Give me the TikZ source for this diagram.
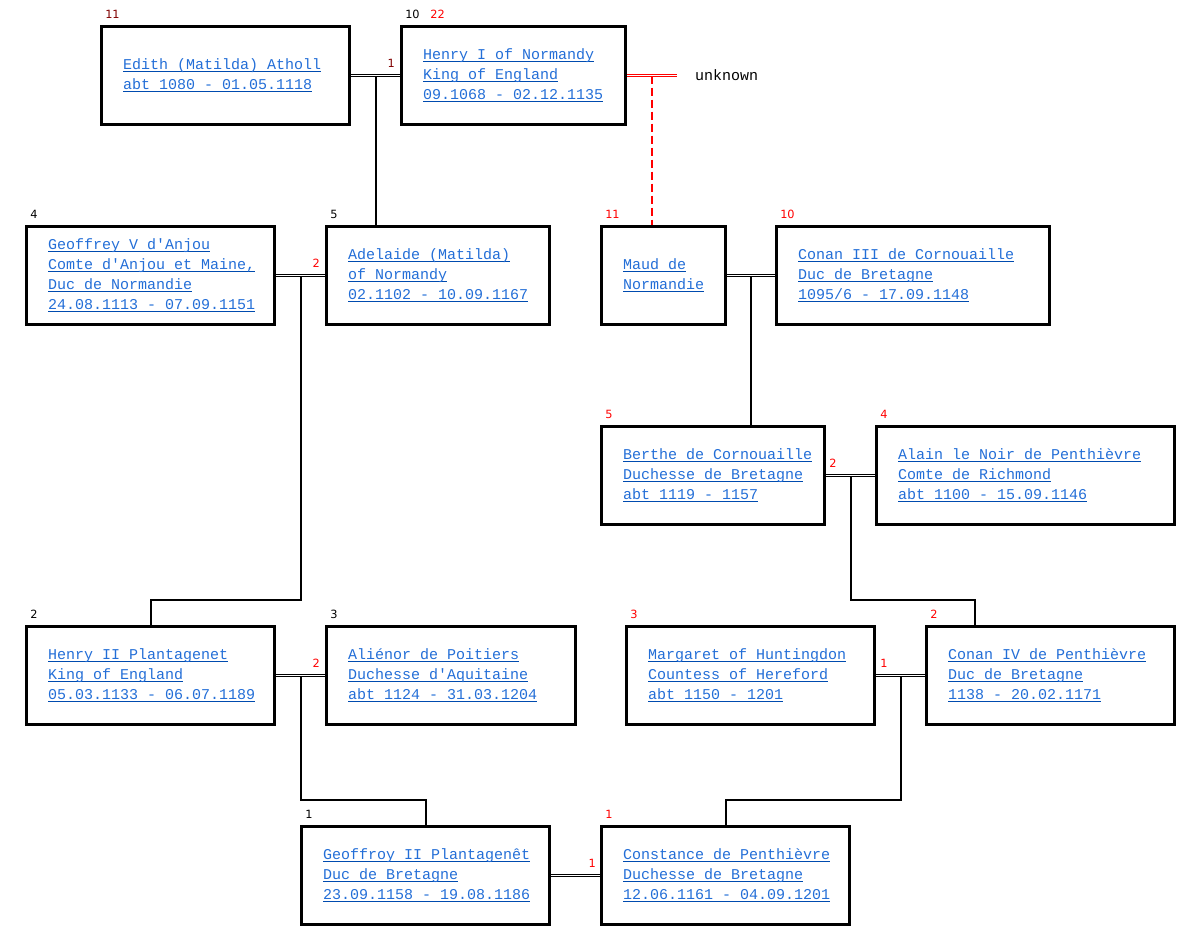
\documentclass[tikz,border=0pt]{standalone}
\usepackage{fontspec}
\newfontfamily\courfont{Liberation Mono}
\newfontfamily\numfont{DejaVu Sans}
\usepackage{tikz}
\usetikzlibrary{calc}
\definecolor{linkblue}{RGB}{35,110,215}
\definecolor{ulblue}{RGB}{0,75,175}
\definecolor{darkred}{RGB}{128,0,0}
\newcommand{\lnk}[1]{\leavevmode\setbox0\hbox{\spaceskip=0pt\xspaceskip=0pt #1}\rlap{\color{ulblue}\rule[-2.25pt]{\wd0}{0.75pt}}\box0}
\newcommand{\gennum}[3][black]{\node[gen, text=#1, anchor=base west] (#2-n) at ([xshift=3.75pt, yshift=5.25pt]#2.north west) {#3};}
\tikzset{person/.style={draw, line width=2.25pt, text width=#1, minimum height=73.5pt, inner xsep=16.125pt, inner ysep=0pt, align=left, anchor=north west, text=linkblue, font=\courfont\fontsize{11.25}{15}\selectfont},
  gen/.style={inner sep=0pt, font=\numfont\fontsize{8.5}{10}\selectfont},
  wed/.style={double, line width=0.75pt, double distance=1.35pt},
  kin/.style={line width=1.5pt}}

\begin{document}
\begin{tikzpicture}[x=0.75pt, y=-0.75pt]
\useasboundingbox (0,0) rectangle (1201,951);
\node[person=153.75pt] (edith) at (100,25) {\lnk{Edith (Matilda) Atholl}\\\lnk{abt 1080 - 01.05.1118}};
\node[person=135.75pt] (henryI) at (400,25) {\lnk{Henry I of Normandy}\\\lnk{King of England}\\\lnk{09.1068 - 02.12.1135}};
\node[anchor=west, inner sep=0pt, outer xsep=13.5pt, font=\courfont\fontsize{11.25}{15}\selectfont] (unknown) at (677,75.5) {unknown};
\node[person=153.75pt] (geoffreyV) at (25,225) {\lnk{Geoffrey V d'Anjou}\\\lnk{Comte d'Anjou et Maine,}\\\lnk{Duc de Normandie}\\\lnk{24.08.1113 - 07.09.1151}};
\node[person=135pt] (adelaide) at (325,225) {\lnk{Adelaide (Matilda)}\\\lnk{of Normandy}\\\lnk{02.1102 - 10.09.1167}};
\node[person=60.75pt] (maud) at (600,225) {\lnk{Maud de}\\\lnk{Normandie}};
\node[person=172.5pt] (conanIII) at (775,225) {\lnk{Conan III de Cornouaille}\\\lnk{Duc de Bretagne}\\\lnk{1095/6 - 17.09.1148}};
\node[person=135pt] (berthe) at (600,425) {\lnk{Berthe de Cornouaille}\\\lnk{Duchesse de Bretagne}\\\lnk{abt 1119 - 1157}};
\node[person=191.25pt] (alain) at (875,425) {\lnk{Alain le Noir de Penthièvre}\\\lnk{Comte de Richmond}\\\lnk{abt 1100 - 15.09.1146}};
\node[person=153.75pt] (henryII) at (25,625) {\lnk{Henry II Plantagenet}\\\lnk{King of England}\\\lnk{05.03.1133 - 06.07.1189}};
\node[person=154.5pt] (alienor) at (325,625) {\lnk{Aliénor de Poitiers}\\\lnk{Duchesse d'Aquitaine}\\\lnk{abt 1124 - 31.03.1204}};
\node[person=153.75pt] (margaret) at (625,625) {\lnk{Margaret of Huntingdon}\\\lnk{Countess of Hereford}\\\lnk{abt 1150 - 1201}};
\node[person=153.75pt] (conanIV) at (925,625) {\lnk{Conan IV de Penthièvre}\\\lnk{Duc de Bretagne}\\\lnk{1138 - 20.02.1171}};
\node[person=153.75pt] (geoffroy) at (300,825) {\lnk{Geoffroy II Plantagenêt}\\\lnk{Duc de Bretagne}\\\lnk{23.09.1158 - 19.08.1186}};
\node[person=153.75pt] (constance) at (600,825) {\lnk{Constance de Penthièvre}\\\lnk{Duchesse de Bretagne}\\\lnk{12.06.1161 - 04.09.1201}};
% generation numbers
\gennum[darkred]{edith}{11}
\gennum{henryI}{10\hspace{8pt}\textcolor{red}{22}}
\gennum{geoffreyV}{4}
\gennum{adelaide}{5}
\gennum[red]{maud}{11}
\gennum[red]{conanIII}{10}
\gennum[red]{berthe}{5}
\gennum[red]{alain}{4}
\gennum{henryII}{2}
\gennum{alienor}{3}
\gennum[red]{margaret}{3}
\gennum[red]{conanIV}{2}
\gennum{geoffroy}{1}
\gennum[red]{constance}{1}
% marriages
\coordinate (m0) at ($(henryI.east)!0.5!(unknown.west)$);
\coordinate (m1) at ($(edith.east)!0.5!(henryI.west)$);
\coordinate (m2) at ($(geoffreyV.east)!0.5!(adelaide.west)$);
\coordinate (m3) at ($(maud.east)!0.5!(conanIII.west)$);
\coordinate (m4) at ($(berthe.east)!0.5!(alain.west)$);
\coordinate (m5) at ($(henryII.east)!0.5!(alienor.west)$);
\coordinate (m6) at ($(margaret.east)!0.5!(conanIV.west)$);
\draw[kin, red, dash pattern=on 6pt off 3pt] (m0) -- (m0 |- maud.north);
\draw[kin] (m1) -- (m1 |- adelaide.north);
\draw[kin] (m2) |- ([yshift=18.75pt]henryII.north) -- (henryII.north);
\draw[kin] (m3) -- (m3 |- berthe.north);
\draw[kin] (m4) |- ([xshift=37.5pt, yshift=18.75pt]conanIV.north west) -- ([xshift=37.5pt]conanIV.north west);
\draw[kin] (m5) |- ([yshift=18.75pt]geoffroy.north) -- (geoffroy.north);
\draw[kin] (m6) |- ([yshift=18.75pt]constance.north) -- (constance.north);
\draw[wed, red] (henryI.east) -- (unknown.west);
\draw[wed] (edith.east) -- (henryI.west);
\draw[wed] (geoffreyV.east) -- (adelaide.west);
\draw[wed] (maud.east) -- (conanIII.west);
\draw[wed] (berthe.east) -- (alain.west);
\draw[wed] (henryII.east) -- (alienor.west);
\draw[wed] (margaret.east) -- (conanIV.west);
\draw[wed] (geoffroy.east) -- (constance.west);
\node[gen, text=darkred, anchor=base east] (w1) at ([xshift=-3.75pt, yshift=6pt]henryI.west) {1};
\node[gen, text=red, anchor=base east] (w2) at ([xshift=-3.75pt, yshift=6pt]adelaide.west) {2};
\node[gen, text=red, anchor=base west] (w4) at ([xshift=2.25pt, yshift=6pt]berthe.east) {2};
\node[gen, text=red, anchor=base east] (w5) at ([xshift=-3.75pt, yshift=6pt]alienor.west) {2};
\node[gen, text=red, anchor=base west] (w6) at ([xshift=3pt, yshift=6pt]margaret.east) {1};
\node[gen, text=red, anchor=base east] (w7) at ([xshift=-3pt, yshift=6pt]constance.west) {1};
\end{tikzpicture}
\end{document}
